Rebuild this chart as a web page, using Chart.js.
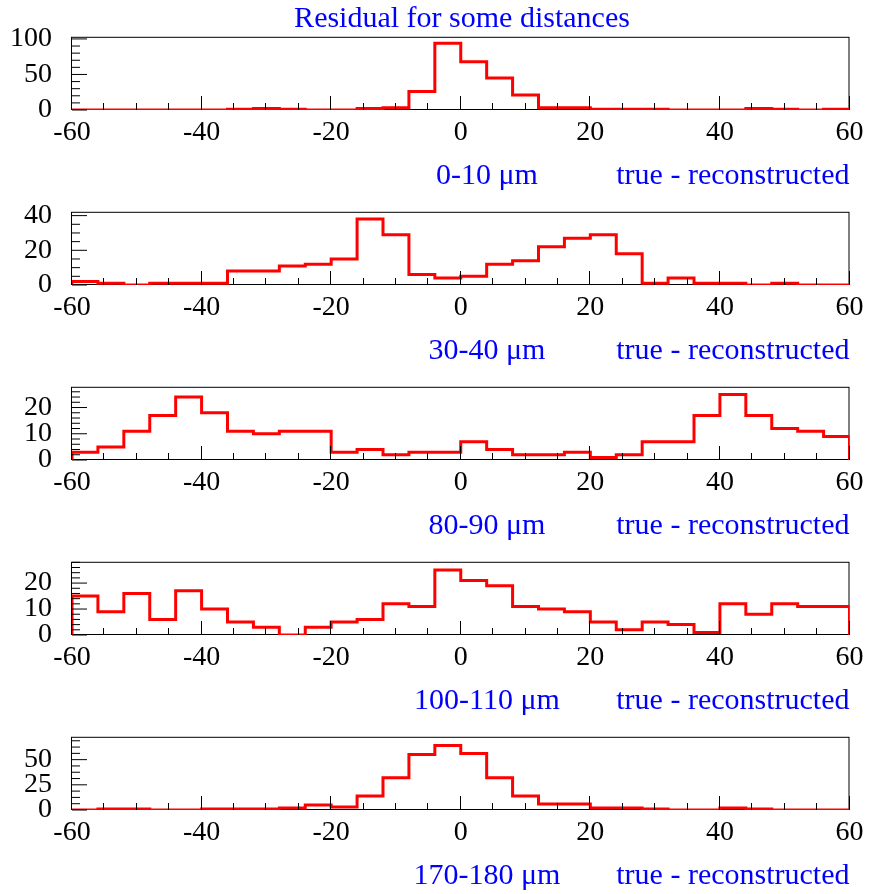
<!DOCTYPE html>
<html>
<head>
<meta charset="utf-8">
<script src="https://cdn.jsdelivr.net/npm/chart.js@4/dist/chart.umd.min.js"></script>
<style>
html,body{margin:0;padding:0;background:#fff;}
#wrap{position:relative;width:869px;height:894px;overflow:hidden;background:#fff;}
canvas.panel{position:absolute;left:0;}
</style>
</head>
<body>
<div id="wrap"></div>
<script>
// ---------- data ----------
const binEdges = [-60,-56,-52,-48,-44,-40,-36,-32,-28,-24,-20,-16,-12,-8,-4,0,4,8,12,16,20,24,28,32,36,40,44,48,52,56,60];
const chartTitle = 'Residual for some distances';
const distanceLabels = ['0-10 \u03bcm','30-40 \u03bcm','80-90 \u03bcm','100-110 \u03bcm','170-180 \u03bcm'];
const axisTitle = 'true - reconstructed';

const counts_0_10    = [0,0,0,0,0,0,1,2,1,0,0,2,3,26,94,68,45,21,3,3,1,1,1,0,0,0,2,1,0,1];
const counts_30_40   = [2,1,0,1,1,1,8,8,11,12,15,38,29,6,4,5,12,14,22,27,29,18,1,4,1,1,0,1,0,0];
const counts_80_90   = [3,5,11,17,24,18,11,10,11,11,3,4,2,3,3,7,4,2,2,3,1,2,7,7,17,25,17,12,11,9];
const counts_100_110 = [15,9,16,6,17,10,5,3,0,3,5,6,12,11,25,21,19,11,10,9,5,2,5,4,1,12,8,12,11,11];
const counts_170_180 = [0,1,1,0,0,1,1,1,2,5,3,14,32,55,64,56,32,14,6,6,2,2,1,0,0,2,1,0,0,0];

const xMin = -60, xMax = 60, xMajorStep = 20, xMinorStep = 5;
const yMaxes     = [103, 42.2, 27.9, 28.2, 72.7];
const yMajorStep = [50, 20, 10, 10, 25];
const yMinorStep = [10, 5, 2, 2, 6.25];
const seriesList = [counts_0_10, counts_30_40, counts_80_90, counts_100_110, counts_170_180];

// ---------- drawing ----------
const SERIF = '"Liberation Serif", "Times New Roman", serif';
const BLUE = '#0000ff';

const rootPlugin = {
  id: 'rootFrame',
  beforeDatasetsDraw(chart) {
    const {ctx, chartArea: a} = chart;
    ctx.save();
    ctx.strokeStyle = '#000';
    ctx.lineWidth = 1;
    ctx.strokeRect(a.left - 0.5, a.top + 0.5, a.right - a.left, a.bottom - a.top - 1);
    ctx.restore();
  },
  afterDatasetsDraw(chart, args, opts) {
    const {ctx, chartArea: a, scales: {x, y}} = chart;
    ctx.save();
    ctx.strokeStyle = '#000';
    ctx.lineWidth = 1;
    ctx.beginPath();
    // x ticks (inside, from bottom)
    for (let v = xMin; v <= xMax + 1e-9; v += xMinorStep) {
      const px = Math.round(x.getPixelForValue(v)) - 0.5;
      const major = Math.abs(v / xMajorStep - Math.round(v / xMajorStep)) < 1e-6;
      const len = major ? 14 : 7;
      ctx.moveTo(px, a.bottom);
      ctx.lineTo(px, a.bottom - len);
    }
    // y ticks (inside, from left)
    for (let v = 0; v <= y.max + 1e-9; v += opts.minor) {
      const py = y.getPixelForValue(v);
      const major = Math.abs(v / opts.major - Math.round(v / opts.major)) < 1e-6;
      const len = major ? 15 : 8;
      ctx.moveTo(a.left, py);
      ctx.lineTo(a.left + len, py);
    }
    ctx.stroke();
    ctx.restore();
  },
  afterDraw(chart, args, opts) {
    const {ctx} = chart;
    ctx.save();
    ctx.fillStyle = BLUE;
    ctx.font = '30px ' + SERIF;
    ctx.textBaseline = 'alphabetic';
    ctx.textAlign = 'center';
    if (opts.title) ctx.fillText(opts.title, 462, 27);
    ctx.fillText(opts.label, 487, 183.5);
    ctx.restore();
  }
};

const wrap = document.getElementById('wrap');
seriesList.forEach((vals, i) => {
  const cv = document.createElement('canvas');
  cv.className = 'panel';
  cv.width = 869; cv.height = 194;
  cv.style.top = (175 * i) + 'px';
  cv.style.width = '869px'; cv.style.height = '194px';
  wrap.appendChild(cv);

  const pts = [{x: binEdges[0], y: 0}];
  vals.forEach((v, k) => { pts.push({x: binEdges[k], y: v}); pts.push({x: binEdges[k + 1], y: v}); });
  pts.push({x: binEdges[binEdges.length - 1], y: 0});

  new Chart(cv, {
    type: 'scatter',
    data: {
      datasets: [{
        data: pts,
        showLine: true,
        borderColor: '#ff0000',
        backgroundColor: '#ff0000',
        borderWidth: 3,
        pointRadius: 0,
        pointHoverRadius: 0,
        fill: false,
        tension: 0,
        borderJoinStyle: 'miter'
      }]
    },
    options: {
      responsive: false,
      animation: false,
      events: [],
      layout: {padding: {top: 32, right: 19, left: 0, bottom: 0}},
      plugins: {
        legend: {display: false},
        tooltip: {enabled: false},
        title: {display: false},
        rootFrame: {
          major: yMajorStep[i], minor: yMinorStep[i],
          label: distanceLabels[i],
          title: i === 0 ? chartTitle : null
        }
      },
      scales: {
        x: {
          type: 'linear', position: 'bottom',
          min: xMin, max: xMax,
          grid: {display: false, drawTicks: false},
          border: {display: false},
          ticks: {
            stepSize: xMajorStep, autoSkip: false, maxRotation: 0, includeBounds: false,
            color: '#000', padding: 5.5,
            font: {family: SERIF, size: 28, lineHeight: 1.2}
          },
          title: {
            display: true, text: axisTitle, align: 'end', color: BLUE,
            font: {family: SERIF, size: 30, lineHeight: 1.2},
            padding: {top: 0, bottom: 0}
          },
          afterFit(s) { s.height = 84; }
        },
        y: {
          type: 'linear',
          min: 0, max: yMaxes[i],
          grid: {display: false, drawTicks: false},
          border: {display: false},
          ticks: {
            stepSize: yMajorStep[i], includeBounds: false, autoSkip: false,
            color: '#000', padding: 20,
            font: {family: SERIF, size: 28, lineHeight: 1.2}
          },
          afterFit(s) { s.width = 72; }
        }
      }
    },
    plugins: [rootPlugin]
  });
});
</script>
</body>
</html>
